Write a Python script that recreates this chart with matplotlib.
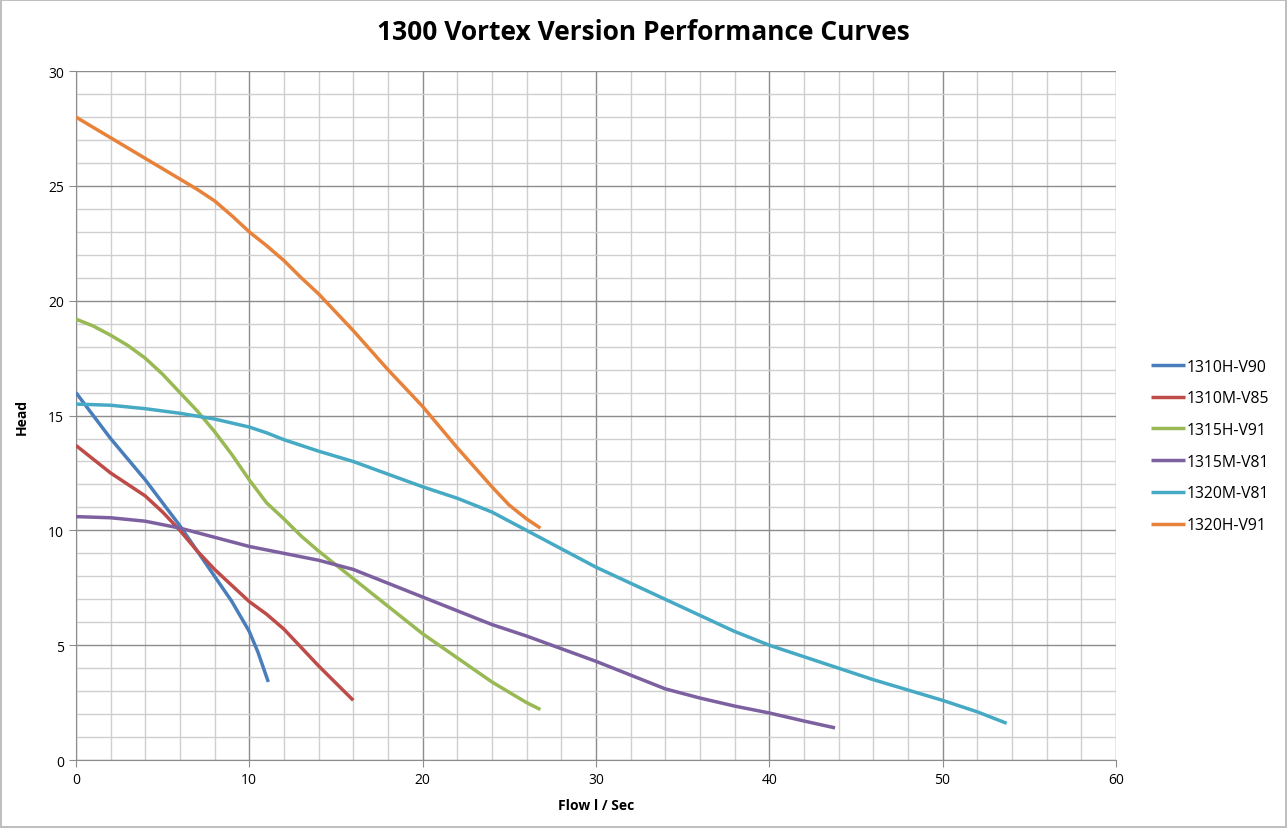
import matplotlib
matplotlib.use('Agg')
import matplotlib.pyplot as plt
from matplotlib.ticker import MultipleLocator

# Series values (flow l/sec, head)
flow_1310h = [0, 1, 2, 3, 4, 5, 6, 7, 8, 9, 10, 10.5, 11.1]
head_1310h = [16.0, 15.0, 14.0, 13.1, 12.2, 11.2, 10.2, 9.1, 8.0, 6.9, 5.6, 4.7, 3.4]

flow_1310m = [0, 1, 2, 3, 4, 5, 6, 7, 8, 9, 10, 11, 12, 13, 14, 15, 16]
head_1310m = [13.7, 13.1, 12.5, 12.0, 11.5, 10.8, 10.0, 9.1, 8.3, 7.6, 6.9, 6.35, 5.7, 4.9, 4.1, 3.35, 2.6]

flow_1315h = [0, 1, 2, 3, 4, 5, 6, 7, 8, 9, 10, 11, 12, 13, 14, 16, 18, 20, 22, 24, 26, 26.8]
head_1315h = [19.2, 18.9, 18.5, 18.05, 17.5, 16.8, 16.0, 15.2, 14.3, 13.3, 12.2, 11.2, 10.5, 9.75,
              9.1, 7.9, 6.7, 5.5, 4.45, 3.4, 2.5, 2.2]

flow_1315m = [0, 2, 4, 6, 8, 10, 12, 14, 15, 16, 17, 18, 20, 22, 24, 26, 28, 30, 32, 34, 36, 38, 40,
              42, 43.8]
head_1315m = [10.6, 10.55, 10.4, 10.1, 9.7, 9.3, 9.0, 8.7, 8.5, 8.3, 8.0, 7.7, 7.1, 6.5, 5.9, 5.4,
              4.85, 4.3, 3.7, 3.1, 2.7, 2.35, 2.05, 1.7, 1.4]

flow_1320m = [0, 2, 4, 6, 8, 10, 11, 12, 13, 14, 16, 18, 20, 22, 24, 25, 26, 28, 30, 32, 34, 36, 38,
              40, 42, 44, 46, 48, 50, 52, 53.7]
head_1320m = [15.5, 15.45, 15.3, 15.1, 14.85, 14.5, 14.25, 13.95, 13.7, 13.45, 13.0, 12.45, 11.9,
              11.4, 10.8, 10.4, 10.0, 9.2, 8.4, 7.7, 7.0, 6.3, 5.6, 5.0, 4.5, 4.0, 3.5, 3.05, 2.6,
              2.1, 1.6]

flow_1320h = [0, 2, 4, 6, 7, 8, 9, 10, 11, 12, 13, 14, 16, 18, 20, 22, 24, 25, 26, 26.8]
head_1320h = [28.0, 27.1, 26.2, 25.3, 24.85, 24.35, 23.7, 23.0, 22.4, 21.75, 21.0, 20.3, 18.7, 17.0,
              15.4, 13.6, 11.9, 11.1, 10.5, 10.1]

labels = ['1310H-V90', '1310M-V85', '1315H-V91', '1315M-V81', '1320M-V81', '1320H-V91']
colors = ['#4a7ebb', '#be4b48', '#98b954', '#7d60a0', '#46aac5', '#e8823a']

series = [(flow_1310h, head_1310h), (flow_1310m, head_1310m), (flow_1315h, head_1315h),
          (flow_1315m, head_1315m), (flow_1320m, head_1320m), (flow_1320h, head_1320h)]

plt.rcParams['font.family'] = ['Open Sans', 'DejaVu Sans']

fig = plt.figure(figsize=(12.87, 8.29), dpi=100)
fig.patch.set_edgecolor('#bfbfbf')
fig.patch.set_linewidth(1.5)
ax = fig.add_axes([0.059, 0.082, 0.808, 0.831])

for (x, y), lab, col in zip(series, labels, colors):
    ax.plot(x, y, color=col, lw=2.5, label=lab, solid_capstyle='butt',
            solid_joinstyle='round', zorder=3)

ax.set_xlim(0, 60)
ax.set_ylim(0, 30)
ax.xaxis.set_major_locator(MultipleLocator(10))
ax.xaxis.set_minor_locator(MultipleLocator(2))
ax.yaxis.set_major_locator(MultipleLocator(5))
ax.yaxis.set_minor_locator(MultipleLocator(1))
ax.grid(which='major', color='#8c8c8c', lw=1.0)
ax.grid(which='minor', color='#cfcfcf', lw=1.0)
ax.set_axisbelow(True)

for side in ['top', 'right']:
    ax.spines[side].set_visible(False)
for side in ['left', 'bottom']:
    ax.spines[side].set_color('#8c8c8c')
ax.tick_params(which='major', length=5, color='#8c8c8c', labelsize=10)
ax.tick_params(which='minor', length=0)

fig.text(0.5, 0.961, '1300 Vortex Version Performance Curves', fontsize=19, fontweight='bold',
         ha='center', va='center')
ax.set_xlabel('Flow l / Sec', fontsize=10, fontweight='bold', labelpad=8)
ax.set_ylabel('Head', fontsize=10, fontweight='bold', labelpad=14)

fig.legend(loc='center left', bbox_to_anchor=(0.888, 0.461), frameon=False, fontsize=11.3,
           handlelength=2.2, handletextpad=0.1, labelspacing=1.0, borderpad=0)

fig.savefig('out.png', dpi=100)
